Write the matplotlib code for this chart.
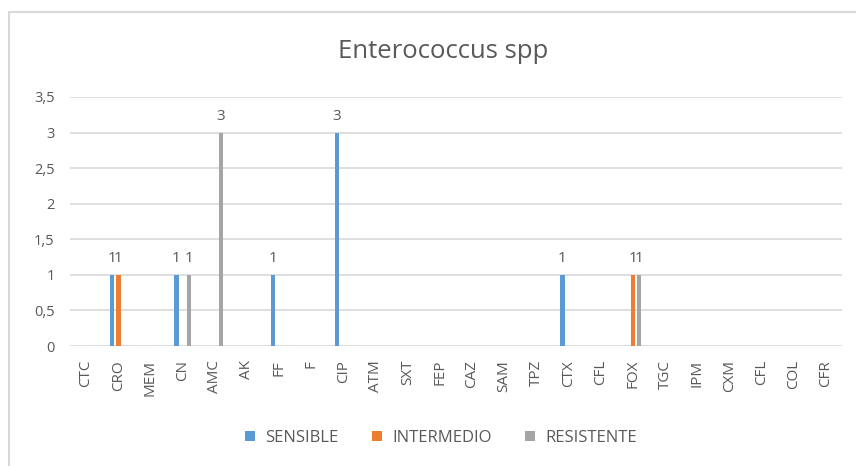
import numpy as np
import matplotlib
matplotlib.use("Agg")
from matplotlib import pyplot as plt
from matplotlib.patches import Rectangle
from matplotlib.ticker import FuncFormatter

categorias = ["CTC", "CRO", "MEM", "CN", "AMC", "AK", "FF", "F", "CIP", "ATM", "SXT", "FEP",
              "CAZ", "SAM", "TPZ", "CTX", "CFL", "FOX", "TGC", "IPM", "CXM", "CFL", "COL", "CFR"]
sensible = [0, 1, 0, 1, 0, 0, 1, 0, 3, 0, 0, 0, 0, 0, 0, 1, 0, 0, 0, 0, 0, 0, 0, 0]
intermedio = [0, 1, 0, 0, 0, 0, 0, 0, 0, 0, 0, 0, 0, 0, 0, 0, 0, 1, 0, 0, 0, 0, 0, 0]
resistente = [0, 0, 0, 1, 3, 0, 0, 0, 0, 0, 0, 0, 0, 0, 0, 0, 0, 1, 0, 0, 0, 0, 0, 0]
series = [("SENSIBLE", sensible, "#5B9BD5"),
          ("INTERMEDIO", intermedio, "#ED7D31"),
          ("RESISTENTE", resistente, "#A5A5A5")]

txt = "#595959"
plt.rcParams['font.family'] = ['Open Sans', 'DejaVu Sans']

fig = plt.figure(figsize=(8.56, 4.66), dpi=100)
ax = fig.add_axes([70/856, 1-346/466, (842-70)/856, (346-97)/466])

# borde del grafico
fig.patches.append(Rectangle((9/856, -0.1), 1.0, (466-12)/466 + 0.1, transform=fig.transFigure,
                             fill=False, edgecolor="#D9D9D9", linewidth=1.5))

x = np.arange(len(categorias))
ancho = 0.14
paso = 0.195
for i, (nombre, vals, col) in enumerate(series):
    pos = x + (i - 1) * paso
    ax.bar(pos, vals, ancho, color=col, label=nombre, zorder=3)
    for p, v in zip(pos, vals):
        if v:
            ax.text(p, v + 0.12, str(v), ha="center", va="bottom", fontsize=11, color=txt)

ax.set_xlim(-0.5, len(categorias) - 0.5)
ax.set_ylim(0, 3.5)
ax.set_yticks(np.arange(0, 3.51, 0.5))
ax.yaxis.set_major_formatter(FuncFormatter(lambda v, _: ("%g" % v).replace(".", ",")))
ax.set_xticks(x)
ax.set_xticklabels(categorias, rotation=90, fontsize=11, color=txt)
ax.tick_params(axis="y", labelsize=10.5, colors=txt, length=0, pad=11)
ax.tick_params(axis="x", length=0, pad=10)
ax.grid(axis="y", color="#D9D9D9", linewidth=1.2, zorder=0)
for s in ax.spines.values():
    s.set_visible(False)

fig.text(443/856, 1-52/466, "Enterococcus spp", ha="center", va="center", fontsize=18.5, color=txt)
fig.legend(loc="center", bbox_to_anchor=(441/856, 1-438/466), ncol=3, frameon=False,
           fontsize=12, labelcolor=txt, handlelength=0.6, handleheight=0.6, columnspacing=2.0,
           handletextpad=0.6)

fig.savefig("out.png", dpi=100)
